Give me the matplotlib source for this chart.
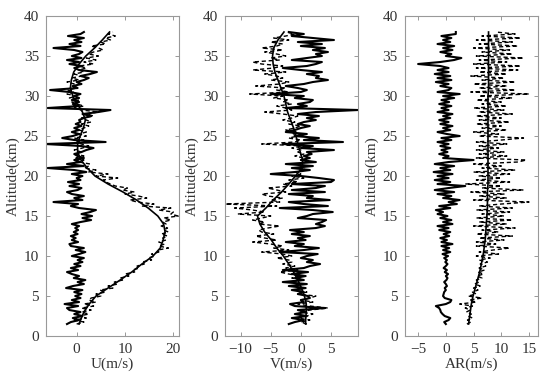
import matplotlib
matplotlib.use('Agg')
import matplotlib.pyplot as plt
import numpy as np

plt.rcParams['font.family'] = ['Liberation Serif', 'DejaVu Serif']
plt.rcParams['font.size'] = 11

# altitude grid of the profiles (km), 0.25 km steps
alt = [1.5, 1.75, 2.0, 2.25, 2.5, 2.75, 3.0, 3.25,
       3.5, 3.75, 4.0, 4.25, 4.5, 4.75, 5.0, 5.25,
       5.5, 5.75, 6.0, 6.25, 6.5, 6.75, 7.0, 7.25,
       7.5, 7.75, 8.0, 8.25, 8.5, 8.75, 9.0, 9.25,
       9.5, 9.75, 10.0, 10.25, 10.5, 10.75, 11.0, 11.25,
       11.5, 11.75, 12.0, 12.25, 12.5, 12.75, 13.0, 13.25,
       13.5, 13.75, 14.0, 14.25, 14.5, 14.75, 15.0, 15.25,
       15.5, 15.75, 16.0, 16.25, 16.5, 16.75, 17.0, 17.25,
       17.5, 17.75, 18.0, 18.25, 18.5, 18.75, 19.0, 19.25,
       19.5, 19.75, 20.0, 20.25, 20.5, 20.75, 21.0, 21.25,
       21.5, 21.75, 22.0, 22.25, 22.5, 22.75, 23.0, 23.25,
       23.5, 23.75, 24.0, 24.25, 24.5, 24.75, 25.0, 25.25,
       25.5, 25.75, 26.0, 26.25, 26.5, 26.75, 27.0, 27.25,
       27.5, 27.75, 28.0, 28.25, 28.5, 28.75, 29.0, 29.25,
       29.5, 29.75, 30.0, 30.25, 30.5, 30.75, 31.0, 31.25,
       31.5, 31.75, 32.0, 32.25, 32.5, 32.75, 33.0, 33.25,
       33.5, 33.75, 34.0, 34.25, 34.5, 34.75, 35.0, 35.25,
       35.5, 35.75, 36.0, 36.25, 36.5, 36.75, 37.0, 37.25,
       37.5, 37.75, 38.0]

# altitude of the fitted background profiles (km)
alt_fit = [1.5, 2, 3, 4, 5, 6, 7, 8, 9, 10, 11, 12, 13, 14, 15, 16, 17, 18, 19, 20,
           21, 22, 23, 24, 25, 26, 27, 28, 29, 30, 31, 32, 33, 34, 35, 36, 37, 38]

# U: perturbation (solid), measured (dashed), background (smooth)
u_pert = [-2.0, -1.2, 0.5, -0.8, 1.2, -0.5, 0.8, -1.5,
          -2.0, 0.3, -2.5, 0.5, -1.0, 0.8, -0.3, 1.0,
          -0.5, 1.2, -2.2, -0.8, 1.5, 0.2, 1.8, -0.6,
          0.5, -1.0, -2.0, 0.3, -1.2, 0.8, -0.5, 1.2,
          0.2, 1.5, -1.0, 0.5, 1.8, -0.2, 1.5, -1.2,
          -1.5, 0.3, -1.0, -0.2, -1.2, 0.2, -0.6, 0.3,
          -0.3, 0.5, -1.0, 0.8, 3.0, 1.2, 3.2, 1.0,
          2.8, 4.0, 0.5, -1.2, 0.3, -4.8, 1.2, -0.5,
          1.5, -1.0, -2.0, 0.2, 1.0, -1.5, 0.5, -1.8,
          0.8, 0.0, 1.2, -1.0, 2.0, -0.5, -6.0, 1.5,
          -2.0, 0.8, -0.5, 1.5, 0.2, -0.5, 1.0, 2.0,
          3.5, 1.0, -6.5, 6.0, -0.5, -3.0, -0.8, 0.5,
          -1.0, 0.5, -0.5, 1.0, -0.2, 0.8, 0.5, 1.5,
          3.0, 1.2, 4.5, 7.0, -6.0, 0.5, -0.8, 0.5,
          -1.0, 0.5, -0.5, 0.8, -1.5, -5.5, 0.2, -0.8,
          1.0, 0.0, 1.5, 2.5, 0.8, 2.8, 4.2, 0.5,
          -0.5, 1.0, -1.5, 0.5, -2.0, 1.0, -1.0, 0.5,
          1.2, -0.5, -4.8, 0.8, -1.5, 1.0, -0.5, 1.5,
          -1.8, 0.8, 1.5]
u_raw = [0.0, 1.5, -0.5, 2.0, 0.5, 2.5, 1.0, 3.0,
         1.0, 3.5, 1.5, 4.0, 2.5, 3.0, 5.0, 4.0,
         6.0, 4.8, 7.5, 6.5, 8.5, 7.8, 9.5, 9.0,
         10.8, 10.0, 12.0, 11.5, 13.0, 12.5, 14.0, 13.5,
         15.5, 14.8, 16.2, 15.5, 17.0, 16.8, 19.0, 17.0,
         18.2, 17.0, 18.5, 17.8, 18.8, 17.5, 19.0, 18.0,
         18.8, 17.5, 18.5, 17.8, 19.5, 18.0, 21.0, 19.5,
         20.0, 17.0, 19.5, 13.5, 16.0, 12.5, 11.0, 14.5,
         12.8, 10.0, 12.0, 9.5, 10.5, 8.0, 7.0, 6.0,
         5.5, 8.5, 4.0, 6.5, 2.5, 4.0, 1.5, 2.5,
         2.8, 0.5, 1.5, -0.5, 1.5, 0.0, 1.0, -0.5,
         1.2, 2.5, 1.0, 0.0, 1.5, -0.5, 2.0, 0.5,
         2.0, 0.5, 1.5, 2.5, 1.0, 3.0, 2.0, 1.0,
         3.5, 2.0, 4.5, 1.0, -0.5, 1.5, 0.0, -1.0,
         0.5, -1.5, 0.0, -2.0, -0.5, -1.8, 0.0, -1.0,
         -0.5, -2.0, 0.5, -1.0, 1.0, -0.5, 1.5, 0.5,
         2.0, 0.5, 3.5, 1.5, 4.0, 2.0, 4.5, 2.5,
         3.5, 5.5, 4.5, 3.0, 6.0, 5.0, 7.0, 6.0,
         8.0, 6.5, 7.5]
u_fit = [0.5, 0.8, 1.5, 2.6, 4.0, 6.5, 9.0, 11.4, 13.5, 15.8, 17.3, 17.9, 18.3, 18.0,
         16.8, 14.8, 12.4, 9.6, 6.5, 3.8, 2.2, 0.9, 0.2, 0.2, 0.7, 1.4, 1.8, 1.2, 0.1,
         -0.8, -1.3, -1.1, -0.6, 0.5, 1.9, 3.7, 5.3, 6.8]

# V
v_pert = [-2.0, -1.0, 0.5, -1.5, 1.0, -1.0, 0.8, -0.5,
          4.0, -1.0, -1.8, 0.5, 0.0, 1.5, 1.2, -0.5,
          0.5, -1.5, 0.8, -2.0, 1.0, -3.0, 0.5, -1.0,
          0.8, -1.5, 1.2, -3.0, 0.5, 1.5, 3.2, 1.0,
          2.0, 0.0, 1.0, 2.8, -3.5, 0.5, 3.0, -1.0,
          0.5, -2.5, 0.8, -0.5, 1.5, -1.5, 0.5, -1.8,
          2.5, 4.0, 2.5, 3.5, 4.2, -0.5, 1.0, 2.0,
          5.3, 2.0, -3.5, 4.5, 0.5, -2.0, 4.8, 1.0,
          2.0, -2.0, 4.0, -1.5, 2.5, 4.0, -1.5, 5.0,
          5.5, 3.0, 0.0, -5.0, -1.0, 1.5, -1.5, 2.0,
          -2.5, 2.5, 0.0, 1.5, 0.5, 1.8, 1.0, 5.5,
          0.0, 2.0, -3.0, 7.0, 0.5, 3.0, -1.0, 1.0,
          -2.5, -1.0, 0.0, 1.5, -0.5, 0.5, 2.5, 1.0,
          3.0, -0.5, 2.5, 9.5, -2.5, 1.0, -0.5, 1.5,
          2.0, -1.0, 0.5, -5.0, 0.0, 1.0, -0.5, -2.5,
          0.5, 2.0, 4.5, 2.5, 3.0, 1.0, 3.5, 0.0,
          -3.0, 1.0, 2.5, 3.5, -1.5, 1.0, 3.5, 2.5,
          4.5, 2.0, 4.0, 0.0, 3.5, -0.5, 5.5, 2.0,
          -1.5, 0.5, -2.0]
v_raw = [1.0, 0.0, 1.5, -0.5, 1.0, 2.0, 0.0, 1.5,
         4.5, 1.5, -0.5, 2.0, 0.0, 1.5, 2.5, -0.5,
         1.0, -1.0, 0.5, -1.5, 0.0, -2.0, 0.5, -1.5,
         0.0, -2.0, -3.5, -0.5, -2.5, -1.0, -3.0, -1.5,
         -2.0, -4.0, -1.5, -3.0, -6.5, -2.0, -4.5, -3.0,
         -5.0, -8.0, -4.0, -6.0, -7.5, -4.5, -6.5, -7.0,
         -5.5, -3.5, -7.0, -6.0, -8.0, -6.5, -5.0, -10.5,
         -6.0, -8.0, -11.0, -4.0, -12.5, -3.5, -5.0, -3.0,
         -5.5, -6.5, -2.5, -4.0, -5.5, -1.5, -3.0, -0.5,
         -2.0, 0.5, -1.5, 0.0, -1.0, 1.0, -0.5, 1.0,
         -0.5, 1.0, 0.0, 0.5, -1.0, 0.5, -0.5, 0.0,
         -1.5, 0.5, -6.5, -1.0, 0.0, -2.0, -0.5, -1.5,
         -0.5, -2.5, -1.0, 0.0, -2.0, -1.0, -3.0, -1.5,
         -0.5, -3.0, -6.0, -1.5, -2.5, -4.0, -1.5, -3.0,
         -2.0, -4.5, -3.0, -8.5, -2.0, -4.0, -2.5, -7.5,
         -3.5, -2.0, -5.0, -3.0, -4.0, -6.0, -2.5, -8.0,
         -4.5, -3.0, -6.5, -8.0, -3.5, -5.0, -2.5, -4.0,
         -6.0, -3.0, -6.5, -4.0, -3.0, -5.0, -2.0, -4.5,
         -2.5, -1.0, -2.5]
v_fit = [0.8, 0.8, 0.9, 0.9, 0.6, 0.1, -0.5, -1.2, -2.0, -2.9, -4.0, -4.9, -6.0, -6.8,
         -7.2, -5.8, -4.6, -3.2, -2.0, -0.9, 0.2, 0.3, -0.1, -0.5, -0.8, -1.2, -1.7, -2.2,
         -2.5, -2.8, -3.3, -3.8, -4.3, -4.6, -4.7, -4.5, -3.8, -2.8]

# AR
ar_pert = [0.0, -0.3, 0.5, 0.8, -0.2, -0.6, -0.9, -1.0,
           -1.2, -1.8, 0.0, 0.8, 1.0, -0.2, -0.5, -0.4,
           -0.3, 0.0, -0.2, 0.2, 0.0, -0.3, 0.1, 0.3,
           0.0, 0.4, -0.2, 0.2, -0.4, 0.0, 0.3, -0.1,
           0.2, -0.3, 0.4, -0.6, 0.8, -0.5, 0.6, -0.8,
           1.2, -0.8, 0.2, -1.0, 0.6, -0.4, 0.8, -1.2,
           0.5, -1.5, 1.2, -0.5, 1.0, -1.0, 0.3, -1.5,
           -0.5, -1.8, 0.8, -1.2, 2.0, 0.5, 2.5, -0.5,
           1.0, -1.5, 1.5, -2.0, 0.5, 3.5, -1.5, 0.8,
           -2.0, 0.5, -1.5, 1.2, -2.2, 0.8, -1.0, 1.5,
           -2.0, 0.5, 5.0, -0.5, 0.5, -1.2, 0.3, -0.8,
           0.8, -1.0, 0.5, -1.5, 1.0, -0.8, 2.5, 0.2,
           -1.5, 0.8, -0.5, 1.2, -1.0, 0.5, -1.2, 0.8,
           -0.5, 1.2, -1.5, 0.5, -0.8, 1.0, -1.2, 0.6,
           -0.8, 1.5, -0.5, 2.5, -1.5, 0.5, 1.0, -1.0,
           0.5, -1.8, 1.0, -1.5, 0.8, -2.0, 0.5, -1.5,
           0.5, -1.0, -5.0, -1.0, 1.5, 2.8, 0.0, 1.0,
           -1.0, 1.2, -0.5, 1.5, -1.5, 0.8, -0.5, 1.0,
           -0.8, 1.8, 1.8]
ar_raw = [3.8, 4.5, 3.9, 4.8, 4.0, 4.6, 3.7, 4.4,
          3.5, 4.8, 2.5, 5.5, 4.2, 6.5, 4.0, 5.5,
          4.8, 5.8, 5.0, 6.2, 5.2, 6.0, 5.5, 6.5,
          5.6, 6.8, 5.8, 7.0, 6.0, 7.2, 6.2, 7.5,
          6.0, 8.0, 5.5, 9.5, 6.0, 8.5, 11.5, 5.5,
          9.0, 5.5, 10.5, 6.0, 12.0, 5.5, 9.5, 6.5,
          12.5, 5.0, 11.0, 6.0, 12.0, 5.5, 10.5, 6.5,
          11.5, 5.5, 12.0, 6.0, 10.0, 15.0, 5.0, 11.0,
          6.0, 10.5, 4.5, 14.0, 6.5, 10.0, 3.5, 11.5,
          5.5, 10.0, 6.0, 11.5, 5.0, 12.5, 6.5, 10.0,
          5.0, 13.0, 14.5, 5.5, 11.0, 6.0, 10.5, 5.5,
          9.5, 6.0, 11.0, 5.5, 10.0, 14.0, 6.0, 9.5,
          5.0, 11.0, 6.5, 10.0, 5.5, 11.5, 6.0, 10.0,
          5.5, 12.0, 6.0, 10.5, 5.0, 11.0, 6.5, 10.0,
          5.5, 12.0, 6.0, 15.0, 4.5, 12.5, 6.0, 11.0,
          5.0, 12.5, 6.5, 10.5, 4.5, 11.0, 6.0, 13.0,
          5.5, 13.5, 5.0, 11.0, 6.0, 14.0, 5.5, 12.0,
          6.5, 11.5, 5.0, 13.0, 6.0, 12.0, 5.5, 13.5,
          6.5, 12.5, 9.0]
ar_fit = [4.1, 4.2, 4.4, 4.6, 4.9, 5.3, 5.7, 6.1, 6.4, 6.7, 6.9, 7.1, 7.2, 7.3, 7.4,
          7.5, 7.5, 7.5, 7.6, 7.6, 7.6, 7.6, 7.6, 7.6, 7.6, 7.6, 7.6, 7.6, 7.6, 7.6,
          7.7, 7.7, 7.7, 7.7, 7.7, 7.7, 7.7, 7.7]

panels = [
    (u_pert, u_raw, u_fit, 'U(m/s)', (-6.35, 21.2), [0, 10, 20]),
    (v_pert, v_raw, v_fit, 'V(m/s)', (-12.6, 9.5), [-10, -5, 0, 5]),
    (ar_pert, ar_raw, ar_fit, 'AR(m/s)', (-7.4, 16.6), [-5, 0, 5, 10, 15]),
]
lefts = [0.0836, 0.409, 0.736]

fig = plt.figure(figsize=(5.5, 3.81), dpi=100)
for i, (pert, raw, fitv, xlab, xl, xt) in enumerate(panels):
    ax = fig.add_axes([lefts[i], 0.118, 0.242, 0.840])
    ax.plot(raw, alt, color='black', lw=1.0, linestyle=(0, (3, 2)))
    ax.plot(pert, alt, color='black', lw=1.5)
    ax.plot(fitv, alt_fit, color='black', lw=1.2)
    ax.set_xlim(xl)
    ax.set_ylim(0, 40)
    ax.set_xticks(xt)
    ax.set_yticks(range(0, 41, 5))
    ax.set_xlabel(xlab, color='#333333', labelpad=1)
    ax.set_ylabel('Altitude(km)', color='#333333', labelpad=3)
    ax.tick_params(direction='in', top=True, right=True, length=3, width=0.6,
                   color='#888888', labelcolor='#333333', pad=5)
    for s in ax.spines.values():
        s.set_color('#999999')
        s.set_linewidth(0.8)

fig.savefig('out.png', dpi=100)
